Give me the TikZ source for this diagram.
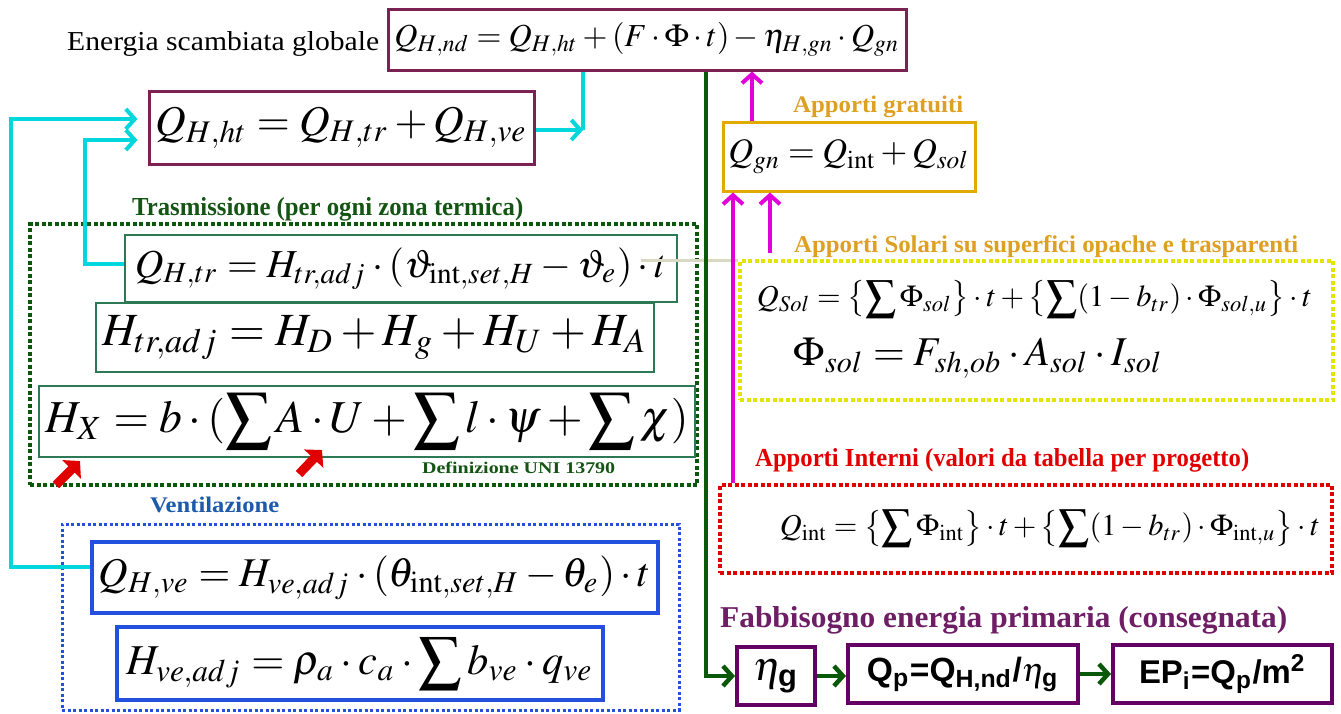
\documentclass[tikz,border=0pt]{standalone}
\usepackage{mathptmx}
\usepackage{amsmath}
\usepackage{graphicx}
\usepackage{fontspec}
\setmainfont{Liberation Serif}
\newfontfamily\sansb{Liberation Sans}
\usetikzlibrary{arrows.meta}

\definecolor{boxmaroon}{RGB}{125,32,82}
\definecolor{lncyan}{RGB}{0,215,220}
\definecolor{lngreen}{RGB}{10,88,10}
\definecolor{trgreen}{RGB}{20,85,20}
\definecolor{trbox}{RGB}{45,120,85}
\definecolor{lnmag}{RGB}{225,0,215}
\definecolor{goldtxt}{RGB}{222,160,35}
\definecolor{goldbox}{RGB}{225,170,0}
\definecolor{solyel}{RGB}{228,228,0}
\definecolor{intred}{RGB}{225,0,0}
\definecolor{veblue}{RGB}{35,80,220}
\definecolor{vetxt}{RGB}{30,90,170}
\definecolor{prpbox}{RGB}{100,0,100}
\definecolor{prptxt}{RGB}{110,30,100}
\definecolor{lngray}{RGB}{216,216,195}

\newcommand{\eqfit}[2]{\resizebox{#1pt}{!}{$\displaystyle #2$}}
\newcommand{\lblfit}[3]{\resizebox{#1pt}{#2pt}{#3}}

\begin{document}
\begin{tikzpicture}[x=1pt, y=-1pt, >={Straight Barb[length=9pt,width=20pt]},
  eqbox/.style={draw=#1, line width=3pt, inner sep=0pt},
  thinbox/.style={draw=trbox, line width=1.5pt, inner sep=0pt},
  dotframe/.style={draw=#1, line width=3.5pt, dash pattern=on 4pt off 2.5pt, inner sep=0pt},
  lbl/.style={anchor=base west, inner sep=0pt, font=\bfseries, text=#1},
  cyanline/.style={draw=lncyan, line width=4pt},
  gline/.style={draw=lngreen, line width=4.5pt},
  mline/.style={draw=lnmag, line width=4pt},
  redarr/.style={draw=intred, line width=9pt, -{Triangle[length=12pt,width=26pt]}}]
  \useasboundingbox (0,0) rectangle (1341,713);

  % Global balance
  \node[anchor=base west, inner sep=0pt] (energia) at (67,50)
    {\lblfit{312}{19}{Energia scambiata globale}};
  \node[eqbox=boxmaroon, minimum width=518pt, minimum height=61pt] (Qnd) at (647,39.5)
    {\eqfit{505}{Q_{H,nd}=Q_{H,ht}+(F\cdot\Phi\cdot t)-\eta_{H,gn}\cdot Q_{gn}}};
  \node[eqbox=boxmaroon, minimum width=385pt, minimum height=73pt] (Qht) at (341.5,127.5)
    {\eqfit{372}{Q_{H,ht}=Q_{H,tr}+Q_{H,ve}}};

  % Trasmissione
  \node[lbl=trgreen] (trlbl) at (132,215) {\lblfit{391}{18}{Trasmissione (per ogni zona termica)}};
  \node[dotframe=lngreen, minimum width=667pt, minimum height=261pt] (trframe) at (363.5,354.5) {};
  \node[thinbox, minimum width=552pt, minimum height=67pt] (Qtr) at (401,268.5)
    {\eqfit{532}{Q_{H,tr}=H_{tr,adj}\cdot(\vartheta_{\mathrm{int},set,H}-\vartheta_e)\cdot t}};
  \node[thinbox, minimum width=558pt, minimum height=69pt] (Htr) at (375,337.5)
    {\eqfit{545}{H_{tr,adj}=H_D+H_g+H_U+H_A}};
  \node[thinbox, minimum width=656pt, minimum height=71pt] (HX) at (367,421.5)
    {\eqfit{643}{H_X=b\cdot(\sum A\cdot U+\sum l\cdot\psi+\sum\chi)}};
  \node[lbl=trgreen] (uni) at (422,473) {\lblfit{193}{11.5}{Definizione UNI 13790}};
  \draw[redarr] (56,485) -- (80,461);
  \draw[redarr] (299,474) -- (322,450);

  % Ventilazione
  \node[lbl=vetxt] (velbl) at (150,512) {\lblfit{129}{15.5}{Ventilazione}};
  \node[draw=veblue, line width=3pt, dash pattern=on 3pt off 2.5pt, inner sep=0pt,
    minimum width=617pt, minimum height=186pt] (veframe) at (370.5,617) {};
  \node[eqbox=veblue, line width=4pt, minimum width=566pt, minimum height=71pt] (Qve) at (375,577.5)
    {\eqfit{552}{Q_{H,ve}=H_{ve,adj}\cdot(\theta_{\mathrm{int},set,H}-\theta_e)\cdot t}};
  \node[eqbox=veblue, line width=4pt, minimum width=486pt, minimum height=73pt] (Hve) at (360,663.5)
    {\eqfit{467}{H_{ve,adj}=\rho_a\cdot c_a\cdot\sum b_{ve}\cdot q_{ve}}};

  % Apporti
  \node[lbl=goldtxt] (grlbl) at (793,112) {\lblfit{170}{16.5}{Apporti gratuiti}};
  \node[eqbox=goldbox, minimum width=252pt, minimum height=69pt] (Qgn) at (849,156.5)
    {\eqfit{241}{Q_{gn}=Q_{\mathrm{int}}+Q_{sol}}};
  \node[lbl=goldtxt] (sollbl) at (794,252) {\lblfit{504}{17}{Apporti Solari su superfici opache e trasparenti}};
  \node[dotframe=solyel, minimum width=593pt, minimum height=139pt] (Sol) at (1036.5,330.5) {};
  \node[inner sep=0pt] (Qsol) at (1034.5,299)
    {\eqfit{555}{Q_{Sol}=\bigl\{\sum\Phi_{sol}\bigr\}\cdot t+\bigl\{\sum(1-b_{tr})\cdot\Phi_{sol,u}\bigr\}\cdot t}};
  \node[inner sep=0pt] (Phisol) at (978.5,358)
    {\eqfit{369}{\Phi_{sol}=F_{sh,ob}\cdot A_{sol}\cdot I_{sol}}};
  \node[lbl=intred] (intlbl) at (755,466) {\lblfit{494}{18}{Apporti Interni (valori da tabella per progetto)}};
  \node[dotframe=intred, minimum width=612pt, minimum height=88pt] (Int) at (1026,529) {};
  \node[inner sep=0pt] (Qint) at (1050,528)
    {\eqfit{540}{Q_{\mathrm{int}}=\bigl\{\sum\Phi_{\mathrm{int}}\bigr\}\cdot t+\bigl\{\sum(1-b_{tr})\cdot\Phi_{\mathrm{int},u}\bigr\}\cdot t}};

  % Energia primaria
  \node[lbl=prptxt] (eplbl) at (720,627) {\lblfit{567}{21}{Fabbisogno energia primaria (consegnata)}};
  \node[eqbox=prpbox, line width=4pt, minimum width=78pt, minimum height=58pt] (eta) at (776,676)
    {\resizebox{46pt}{!}{$\eta_{\text{\sansb\bfseries g}}$}};
  \node[eqbox=prpbox, line width=4pt, minimum width=230pt, minimum height=58pt] (Qp) at (963,674)
    {\resizebox{192pt}{!}{\sansb\bfseries Q$_{\text{p}}$=Q$_{\text{H,nd}}$/$\eta_{\text{g}}$}};
  \node[eqbox=prpbox, line width=4pt, minimum width=219pt, minimum height=58pt] (EP) at (1222.5,674)
    {\resizebox{167pt}{!}{\sansb\bfseries EP$_{\text{i}}$=Q$_{\text{p}}$/m$^{\text{2}}$}};

  % Connectors
  \coordinate (cyb) at (583,130);
  \coordinate (ctr) at (85,140);
  \coordinate (cve) at (11,119);
  \coordinate (gv) at (706,0);
  \coordinate (m1) at (752,0);
  \coordinate (m2) at (733,0);
  \coordinate (msol) at (770,253);
  \draw[draw=lngray, line width=3pt] ([shift={(-37pt,8pt)}]Qtr.east) coordinate (g0) -- (g0 -| Sol.west);
  \draw[cyanline] (Qnd.south -| cyb) -- (cyb);
  \draw[cyanline, ->] (Qht.east |- cyb) -- (cyb);
  \draw[cyanline, ->, shorten >=10pt] ([yshift=5pt]Qtr.west) -| (ctr) -- (ctr -| Qht.west);
  \draw[cyanline, ->, shorten >=10pt] ([yshift=11pt]Qve.west) -| (cve) -- (cve -| Qht.west);
  \draw[gline, ->] (Qnd.south -| gv) |- (eta.west);
  \draw[gline, ->] (eta.east) -- (eta.east -| Qp.west);
  \draw[gline, ->] (Qp.east |- EP.west) -- (EP.west);
  \draw[mline, ->] (Qgn.north -| m1) -- (Qnd.south -| m1);
  \draw[mline, ->] (msol) -- (Qgn.south -| msol);
  \draw[mline, ->] (Int.north -| m2) -- (Qgn.south -| m2);
\end{tikzpicture}
\end{document}
